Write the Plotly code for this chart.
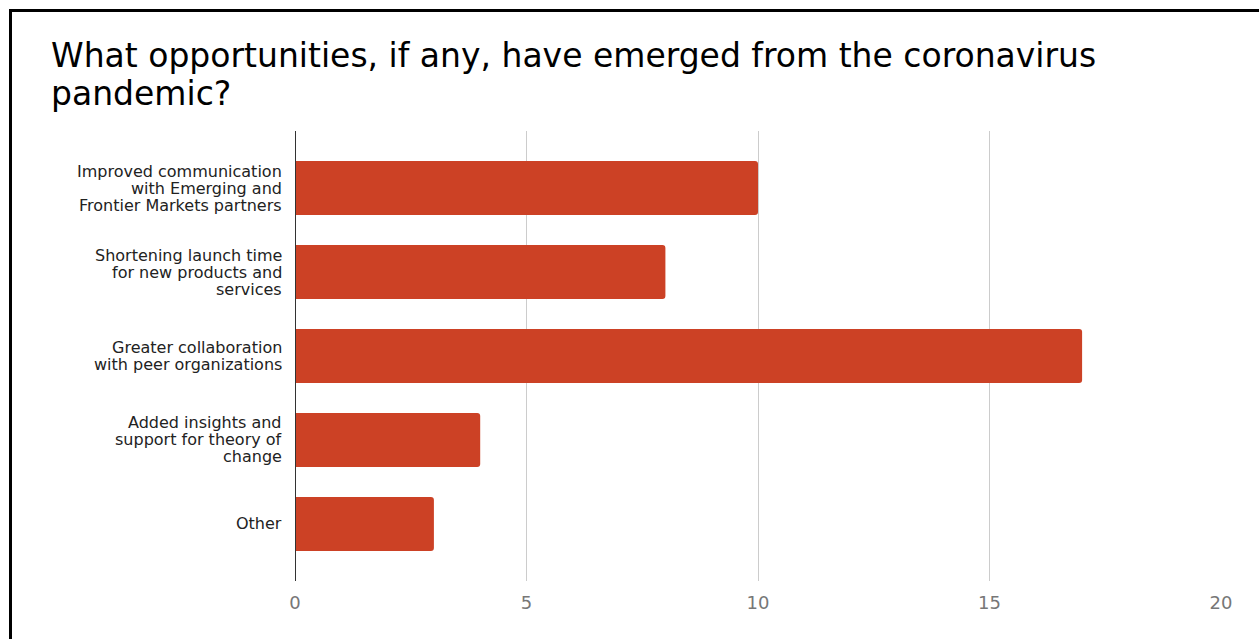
import plotly.graph_objects as go

categories = [
    "Improved communication<br>with Emerging and<br>Frontier Markets partners",
    "Shortening launch time<br>for new products and<br>services",
    "Greater collaboration<br>with peer organizations",
    "Added insights and<br>support for theory of<br>change",
    "Other",
]
values = [10, 8, 17, 4, 3]
x_ticks = [0, 5, 10, 15, 20]
title_lines = ["What opportunities, if any, have emerged from the coronavirus", "pandemic?"]

W, H = 1259, 639
L, R, T, B = 295, 38, 131, 58
pw = W - L - R
ph = H - T - B

def px_to_paper_x(px):
    return (px - L) / pw

def py_to_paper_y(py):
    return 1 - (py - T) / ph

FONT = "DejaVu Sans"
BAR = "#cc4125"

fig = go.Figure()
fig.add_trace(go.Bar(
    y=list(range(len(categories))),
    x=values,
    orientation="h",
    marker=dict(color=BAR, line=dict(width=0), cornerradius=3),
    width=0.643,
    hoverinfo="x",
))

annotations = []
LINE_H = 17
for i, cat in enumerate(categories):
    lines = cat.split("<br>")
    n = len(lines)
    for j, line in enumerate(lines):
        off = (j - (n - 1) / 2) * LINE_H
        annotations.append(dict(
            x=0, y=i, xref="x", yref="y", text=line, showarrow=False,
            xanchor="right", yanchor="middle", xshift=-11, yshift=-off,
            font=dict(family=FONT, size=16, color="#222222"),
        ))

title_centers = [55.5, 93.5]
for k, t in enumerate(title_lines):
    annotations.append(dict(
        x=px_to_paper_x(49), y=py_to_paper_y(title_centers[k]), xref="paper", yref="paper",
        text=t, showarrow=False, xanchor="left", yanchor="middle",
        font=dict(family=FONT, size=33, color="#000000"),
    ))

fig.update_layout(
    width=W, height=H, autosize=False,
    margin=dict(l=L, r=R, t=T, b=B, pad=0),
    paper_bgcolor="white", plot_bgcolor="white",
    showlegend=False,
    annotations=annotations,
    xaxis=dict(
        range=[0, 20], tickvals=x_ticks, ticktext=[str(v) for v in x_ticks],
        showgrid=True, gridcolor="#cccccc", gridwidth=1,
        zeroline=False, showline=False, ticks="",
        tickfont=dict(family="DejaVu Sans", size=18, color="#777777"),
        ticklabelstandoff=9, fixedrange=True,
    ),
    yaxis=dict(
        range=[4.679, -0.679], showticklabels=False, showgrid=False,
        zeroline=False, showline=False, ticks="", fixedrange=True,
    ),
    shapes=[
        dict(type="line", xref="x", yref="paper", x0=0, x1=0, y0=0, y1=1,
             line=dict(color="#333333", width=2)),
        dict(type="line", xref="paper", yref="paper",
             x0=px_to_paper_x(10.5), x1=px_to_paper_x(W + 5),
             y0=py_to_paper_y(10.5), y1=py_to_paper_y(10.5),
             line=dict(color="#000000", width=3)),
        dict(type="line", xref="paper", yref="paper",
             x0=px_to_paper_x(10.5), x1=px_to_paper_x(10.5),
             y0=py_to_paper_y(9), y1=py_to_paper_y(H + 5),
             line=dict(color="#000000", width=3)),
    ],
)

fig.write_html("out.html")
